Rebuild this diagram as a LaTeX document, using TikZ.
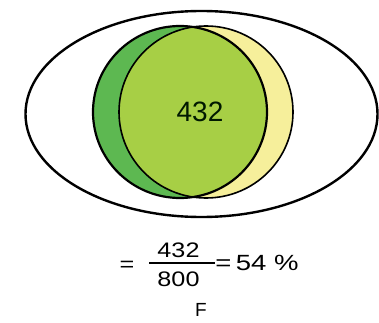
\documentclass[tikz,border=0pt]{standalone}
\usepackage{fontspec}
\setmainfont{Liberation Sans}
\usetikzlibrary{calc}
\definecolor{darkgr}{HTML}{5DB851}
\definecolor{limegr}{HTML}{A7CF45}
\definecolor{paleyel}{HTML}{F6EF9B}

\begin{document}
\begin{tikzpicture}[x=1pt,y=1pt]
        % canvas 379 x 322, y measured from the bottom
        \useasboundingbox (0,0) rectangle (379,322);

        \coordinate (O) at (201.5,208);
        \coordinate (G) at (180,210);
        \coordinate (Y) at (206,210);

        % Outer set
        \draw[line width=2.4pt] (O) ellipse [x radius=176, y radius=103];

        % Two circles and their overlap
        \fill[darkgr] (G) ellipse [x radius=87, y radius=86];
        \fill[paleyel] (Y) ellipse [x radius=87, y radius=86];
        \begin{scope}
            \clip (G) ellipse [x radius=87, y radius=86];
            \fill[limegr] (Y) ellipse [x radius=87, y radius=86];
        \end{scope}
        \draw[line width=2.2pt] (G) ellipse [x radius=87, y radius=86];
        \draw[line width=1.6pt] (Y) ellipse [x radius=87, y radius=86];

        \node[font=\fontsize{28}{30}\selectfont, text=black!90!green] (mid) at (200,210) {432};

        % Fraction below
        \node[font=\fontsize{21}{24}\selectfont, xscale=1.2] (eqa) at (127,56) {=};
        \node[font=\fontsize{21}{24}\selectfont, xscale=1.2] (num) at (178.5,72) {432};
        \node[font=\fontsize{21}{24}\selectfont, xscale=1.2] (den) at (178.5,43) {800};
        \coordinate (barL) at (149,59);
        \coordinate (barR) at (215,59);
        \draw[line width=1.8pt] (barL) -- (barR);
        \node[font=\fontsize{22}{24}\selectfont, xscale=1.25, anchor=west, inner sep=0pt] (res) at (barR) {=\,54 \%};
        \node[font=\fontsize{19}{21}\selectfont] (F) at (201,12) {F};
    \end{tikzpicture}
\end{document}
